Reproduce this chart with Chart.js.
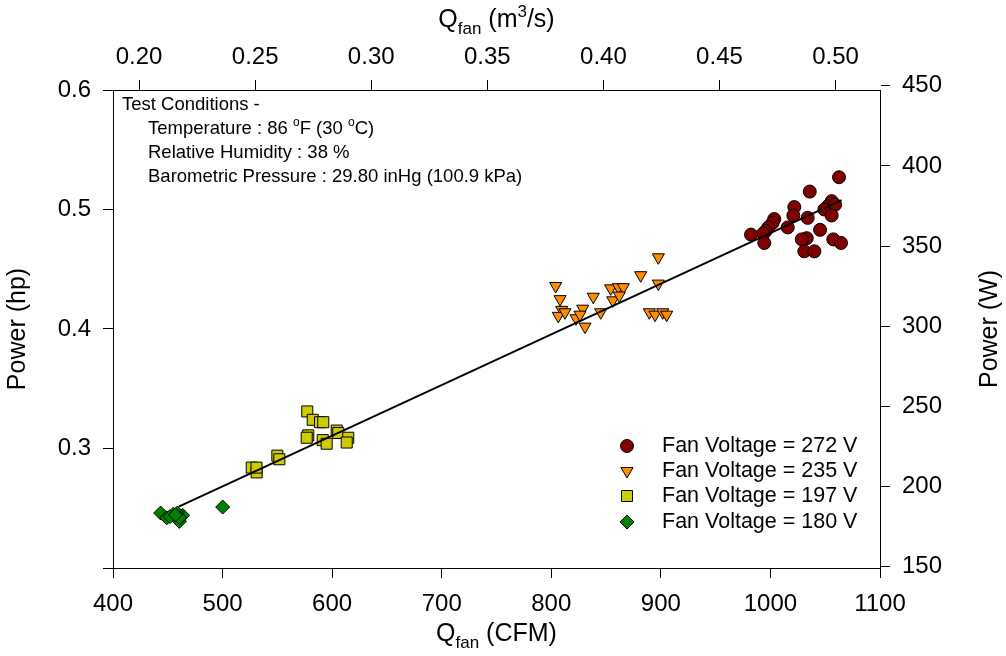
<!DOCTYPE html>
<html lang="en">
<head>
<meta charset="UTF-8">
<title>Fan power vs flow</title>
<script src="https://cdn.jsdelivr.net/npm/chart.js"></script>
<style>
  body { margin: 0; background: #fff; }
  #wrap { width: 1006px; height: 656px; }
</style>
</head>
<body>
<div id="wrap"><canvas id="grafico"></canvas></div>
<script>
  // Fan Voltage = 272 V
  const cfm272 = [1062.6, 1035.9, 1021.8, 1020.9, 1003.5, 1002.1, 998.1, 995.7, 993.5, 982.3, 994.4, 1015.8, 1034.0,
                  1055.9, 1052.8, 1049.2, 1059.0, 1055.9, 1045.3, 1033.1, 1028.6, 1057.4, 1064.4, 1030.9, 1040.1];
  const hp272 = [0.527, 0.515, 0.502, 0.495, 0.492, 0.489, 0.485, 0.482, 0.480, 0.479, 0.472, 0.485, 0.493,
                 0.507, 0.503, 0.500, 0.504, 0.495, 0.483, 0.476, 0.475, 0.475, 0.472, 0.465, 0.465];
  // Fan Voltage = 235 V
  const cfm235 = [897.7, 881.6, 804.0, 808.0, 809.5, 806.4, 812.5, 828.7, 822.6, 826.2, 830.8, 838.3, 845.1,
                  854.2, 861.2, 865.7, 856.1, 862.1, 897.7, 889.5, 894.7, 901.7, 905.3];
  const hp235 = [0.460, 0.445, 0.436, 0.425, 0.416, 0.411, 0.414, 0.417, 0.409, 0.412, 0.402, 0.427, 0.414,
                 0.434, 0.435, 0.435, 0.424, 0.428, 0.438, 0.414, 0.412, 0.414, 0.412];
  // Fan Voltage = 197 V
  const cfm197 = [577.3, 582.3, 588.9, 591.9, 578.2, 576.8, 591.4, 595.0, 604.2, 605.6, 614.7, 613.3, 550.0, 551.8,
                  526.6, 531.1, 531.0];
  const hp197 = [0.331, 0.324, 0.322, 0.322, 0.311, 0.309, 0.307, 0.304, 0.315, 0.313, 0.309, 0.305, 0.294, 0.291,
                 0.284, 0.280, 0.284];
  // Fan Voltage = 180 V
  const cfm180 = [443.5, 449.0, 455.0, 460.5, 463.6, 458.7, 452.0, 461.0, 457.0, 500.1];
  const hp180 = [0.246, 0.242, 0.245, 0.239, 0.244, 0.246, 0.243, 0.242, 0.2445, 0.251];
  // linha de ajuste
  const fitCfm = [460, 1065];
  const fitHp = [0.2514, 0.5078];

  const xTicks = [400, 500, 600, 700, 800, 900, 1000, 1100];
  const topTicks = [0.20, 0.25, 0.30, 0.35, 0.40, 0.45, 0.50];
  const yTicks = [0.2, 0.3, 0.4, 0.5, 0.6];
  const wTicks = [150, 200, 250, 300, 350, 400, 450];

  const CFM_TO_M3S = 0.000471947;
  const HP_TO_W = 745.7;
  const FONT = '"Liberation Sans", Arial, sans-serif';
  const TICK_FONT = 24;

  const series = [
    { label: 'Fan Voltage = 272 V', x: cfm272, y: hp272, style: 'circle', color: '#800000', radius: 6.5, rotation: 0 },
    { label: 'Fan Voltage = 235 V', x: cfm235, y: hp235, style: 'triangle', color: '#FF8C00', radius: 7, rotation: 180 },
    { label: 'Fan Voltage = 197 V', x: cfm197, y: hp197, style: 'rect', color: '#CCCC00', radius: 7.8, rotation: 0 },
    { label: 'Fan Voltage = 180 V', x: cfm180, y: hp180, style: 'rectRot', color: '#008000', radius: 7, rotation: 0 }
  ];

  const pontos = (xs, ys) => xs.map((v, i) => ({ x: v, y: ys[i] }));

  const datasets = [{
    type: 'line',
    label: 'fit',
    data: pontos(fitCfm, fitHp),
    borderColor: '#000',
    borderWidth: 2,
    pointRadius: 0,
    fill: false,
    order: 0
  }];
  series.forEach(s => datasets.push({
    label: s.label,
    data: pontos(s.x, s.y),
    pointStyle: s.style,
    pointRadius: s.radius,
    pointRotation: s.rotation,
    backgroundColor: s.color,
    borderColor: '#000',
    borderWidth: 1,
    order: 1
  }));

  // desenha texto com sub/sobrescrito
  function textoRico(ctx, partes, x, y, align) {
    let w = 0;
    partes.forEach(p => { ctx.font = p.size + 'px ' + FONT; w += ctx.measureText(p.t).width; });
    let cx = align === 'center' ? x - w / 2 : x;
    ctx.textAlign = 'left';
    ctx.textBaseline = 'alphabetic';
    partes.forEach(p => {
      ctx.font = p.size + 'px ' + FONT;
      ctx.fillText(p.t, cx, y + (p.dy || 0));
      cx += ctx.measureText(p.t).width;
    });
  }

  const extras = {
    id: 'extras',
    afterDraw(chart) {
      const ctx = chart.ctx;
      const area = chart.chartArea;
      const mid = (area.left + area.right) / 2;
      ctx.save();
      ctx.fillStyle = '#000';

      // titulos dos eixos
      textoRico(ctx, [{ t: 'Q', size: 25 }, { t: 'fan', size: 17, dy: 7 }, { t: ' (CFM)', size: 25 }], mid, 641, 'center');
      textoRico(ctx, [{ t: 'Q', size: 25 }, { t: 'fan', size: 17, dy: 7 }, { t: ' (m', size: 25 },
                      { t: '3', size: 17, dy: -10 }, { t: '/s)', size: 25 }], mid, 27, 'center');

      ctx.font = '25px ' + FONT;
      ctx.textAlign = 'center';
      ctx.textBaseline = 'middle';
      const midY = (area.top + area.bottom) / 2;
      ctx.save();
      ctx.translate(18, midY);
      ctx.rotate(-Math.PI / 2);
      ctx.fillText('Power (hp)', 0, 0);
      ctx.restore();
      ctx.save();
      ctx.translate(990, midY);
      ctx.rotate(-Math.PI / 2);
      ctx.fillText('Power (W)', 0, 0);
      ctx.restore();

      // condicoes de teste
      const f = 18.5;
      textoRico(ctx, [{ t: 'Test Conditions -', size: f }], area.left + 9, area.top + 20);
      textoRico(ctx, [{ t: 'Temperature : 86 ', size: f }, { t: 'o', size: 12, dy: -8 }, { t: 'F (30 ', size: f },
                      { t: 'o', size: 12, dy: -8 }, { t: 'C)', size: f }], area.left + 35, area.top + 44);
      textoRico(ctx, [{ t: 'Relative Humidity : 38 %', size: f }], area.left + 35, area.top + 68);
      textoRico(ctx, [{ t: 'Barometric Pressure : 29.80 inHg (100.9 kPa)', size: f }], area.left + 35, area.top + 92);

      // legenda
      const lx = 627, tx = 662;
      const ly = [446, 471, 496, 522];
      series.forEach((s, i) => {
        ctx.fillStyle = s.color;
        ctx.strokeStyle = '#000';
        ctx.lineWidth = 1;
        Chart.helpers.drawPoint(ctx, { pointStyle: s.style, radius: s.radius, rotation: s.rotation, borderWidth: 1 }, lx, ly[i]);
        ctx.fillStyle = '#000';
        ctx.font = '21.5px ' + FONT;
        ctx.textAlign = 'left';
        ctx.textBaseline = 'middle';
        ctx.fillText(s.label, tx, ly[i]);
      });
      ctx.restore();
    }
  };

  const eixo = (extra) => Object.assign({
    type: 'linear',
    grid: { drawOnChartArea: false, drawTicks: true, tickLength: 10, color: '#000', lineWidth: 1 },
    border: { display: true, color: '#000', width: 1 }
  }, extra);

  const fixar = (lista) => (s) => { s.ticks = lista.map(v => ({ value: v })); };
  const rotulos = (pad, cb) => ({ color: '#000', font: { size: TICK_FONT }, autoSkip: false, maxRotation: 0, padding: pad, callback: cb });

  Chart.defaults.font.family = FONT;

  new Chart(document.getElementById('grafico'), {
    type: 'scatter',
    data: { datasets: datasets },
    options: {
      responsive: true,
      maintainAspectRatio: false,
      animation: false,
      devicePixelRatio: 1,
      layout: { padding: 0 },
      plugins: { legend: { display: false }, tooltip: { enabled: false } },
      scales: {
        x: eixo({
          position: 'bottom', min: 400, max: 1100,
          afterBuildTicks: fixar(xTicks),
          ticks: rotulos(12, v => String(v)),
          afterFit: s => { s.height = 88; }
        }),
        x2: eixo({
          position: 'top', min: 400 * CFM_TO_M3S, max: 1100 * CFM_TO_M3S,
          afterBuildTicks: fixar(topTicks),
          ticks: rotulos(8, v => v.toFixed(2)),
          afterFit: s => { s.height = 90; }
        }),
        y: eixo({
          position: 'left', min: 0.2, max: 0.6,
          afterBuildTicks: fixar(yTicks),
          ticks: rotulos(12, v => (v < 0.25 ? '' : v.toFixed(1))),
          afterFit: s => { s.width = 113; }
        }),
        y2: eixo({
          position: 'right', min: 0.2 * HP_TO_W, max: 0.6 * HP_TO_W,
          afterBuildTicks: fixar(wTicks),
          ticks: rotulos(12, v => String(v)),
          afterFit: s => { s.width = 126; }
        })
      }
    },
    plugins: [extras]
  });
</script>
</body>
</html>
